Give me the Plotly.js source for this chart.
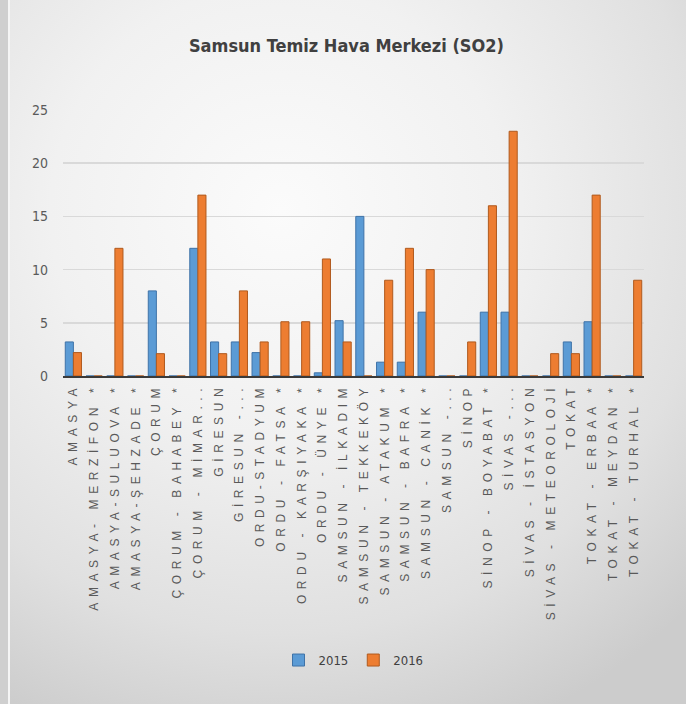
<!DOCTYPE html>
<html>
<head>
<meta charset="utf-8">
<script src="https://cdn.plot.ly/plotly-3.0.1.min.js"></script>
<style>
html,body{margin:0;padding:0;width:686px;height:704px;overflow:hidden;}
body{background:#cfcfcf;}
#bg{position:absolute;left:10px;top:0;width:676px;height:704px;
  background:radial-gradient(ellipse 85% 80% at 40% 30%, #fbfbfb 0%, #f1f1f1 40%, #e0e0e0 75%, #cccccc 100%);}
#frame{position:absolute;left:8px;top:0;width:2px;height:704px;background:#f5f5f5;}
#chart{position:absolute;left:0;top:0;width:686px;height:704px;}
.xtick text{letter-spacing:5.6px;}
</style>
</head>
<body>
<div id="bg"></div>
<div id="frame"></div>
<div id="chart"></div>
<script>
const categories = [
  "AMASYA", "AMASYA- MERZİFON *", "AMASYA-SULUOVA *", "AMASYA-ŞEHZADE *",
  "ÇORUM", "ÇORUM - BAHABEY *", "ÇORUM - MİMAR...", "GİRESUN", "GİRESUN -...",
  "ORDU-STADYUM", "ORDU - FATSA *", "ORDU - KARŞIYAKA *", "ORDU - ÜNYE *",
  "SAMSUN - İLKADIM", "SAMSUN - TEKKEKÖY", "SAMSUN - ATAKUM *", "SAMSUN - BAFRA *",
  "SAMSUN - CANİK *", "SAMSUN -...", "SİNOP", "SİNOP - BOYABAT *", "SİVAS -...",
  "SİVAS - İSTASYON", "SİVAS - METEOROLOJİ", "TOKAT", "TOKAT - ERBAA *",
  "TOKAT - MEYDAN *", "TOKAT - TURHAL *"
];
const values2015 = [3.2, 0, 0, 0, 8, 0, 12, 3.2, 3.2, 2.2, 0, 0, 0.3, 5.2, 15, 1.3, 1.3, 6, 0, 0, 6, 6, 0, 0, 3.2, 5.1, 0, 0];
const values2016 = [2.2, 0, 12, 0, 2.1, 0, 17, 2.1, 8, 3.2, 5.1, 5.1, 11, 3.2, 0, 9, 12, 10, 0, 3.2, 16, 23, 0, 2.1, 2.1, 17, 0, 9];
const seriesNames = ["2015", "2016"];
const yTicks = [0, 5, 10, 15, 20, 25];

const traces = [
  {type: "bar", name: seriesNames[0], x: categories, y: values2015,
   marker: {color: "#5b9bd5", line: {color: "#3f73a8", width: 1}}},
  {type: "bar", name: seriesNames[1], x: categories, y: values2016,
   marker: {color: "#ed7d31", line: {color: "#b05a1e", width: 1}}}
];

const layout = {
  width: 686, height: 704,
  margin: {l: 63, r: 42, t: 110, b: 328},
  paper_bgcolor: "rgba(0,0,0,0)",
  plot_bgcolor: "rgba(0,0,0,0)",
  barmode: "group",
  bargap: 0.22,
  bargroupgap: 0,
  title: {text: "Samsun Temiz Hava Merkezi (SO2)", x: 0.505, xanchor: "center", y: 0.935, yanchor: "middle",
          font: {family: "DejaVu Sans Condensed", size: 18, color: "#404040", weight: "bold"}},
  xaxis: {
    type: "category", tickangle: -90, showline: true, linecolor: "#3a3a3a", linewidth: 2,
    ticks: "", showgrid: false, automargin: false,
    tickfont: {family: "Liberation Sans", size: 12, color: "#595959"}
  },
  yaxis: {
    range: [0, 25], tickvals: yTicks, showgrid: true, gridcolor: "#d9d9d9", gridwidth: 1.5,
    zeroline: false, showline: false, ticks: "", ticklabelstandoff: 14,
    tickfont: {family: "DejaVu Sans Condensed", size: 14, color: "#5a5a5a"}, automargin: false
  },
  showlegend: true,
  legend: {orientation: "h", x: 0.5, xanchor: "center", y: -1.068, yanchor: "middle",
           font: {family: "DejaVu Sans Condensed", size: 13, color: "#404040"},
           bgcolor: "rgba(0,0,0,0)", itemwidth: 30}
};

Plotly.newPlot("chart", traces, layout, {staticPlot: true, displayModeBar: false});
</script>
</body>
</html>
